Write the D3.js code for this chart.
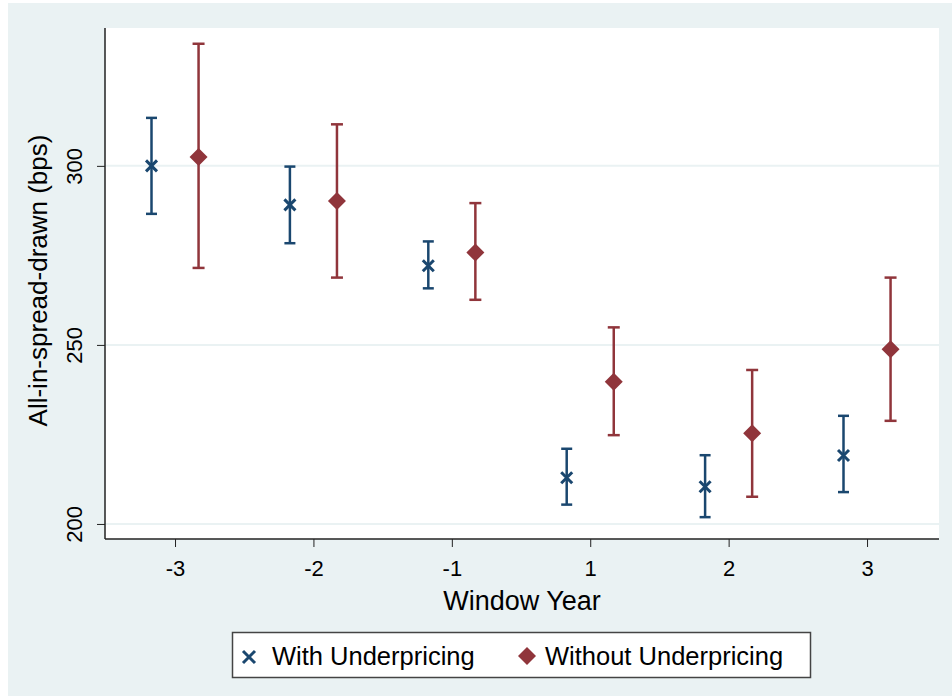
<!DOCTYPE html>
<html>
<head>
<meta charset="utf-8">
<script src="https://d3js.org/d3.v7.min.js"></script>
<style>
body { margin: 0; background: white; }
svg { display: block; font-family: "Liberation Sans", Arial, sans-serif; }
</style>
</head>
<body>
<svg width="952" height="696"></svg>
<script>
// window years and estimates
var years = ["-3", "-2", "-1", "1", "2", "3"];
var withMean = [300, 289.1, 272.1, 212.9, 210.4, 219.1];
var withLo   = [286.6, 278.4, 265.8, 205.4, 201.9, 208.9];
var withHi   = [313.4, 299.8, 278.9, 221.0, 219.2, 230.2];
var withoutMean = [302.5, 290.2, 275.8, 239.7, 225.3, 248.8];
var withoutLo   = [271.5, 268.8, 262.6, 224.8, 207.6, 228.8];
var withoutHi   = [334.1, 311.6, 289.6, 254.9, 243.0, 268.8];
var yTicks = [200, 250, 300];
var seriesNames = ["With Underpricing", "Without Underpricing"];

var blue = "#1a476f", red = "#90353b", bg = "#eaf2f3";
var plot = {left: 105, right: 939, top: 28, bottom: 539};

var svg = d3.select("svg");
svg.append("rect").attr("x", 8).attr("y", 3).attr("width", 944).attr("height", 693).attr("fill", bg);
svg.append("rect").attr("x", plot.left).attr("y", plot.top)
   .attr("width", plot.right - plot.left).attr("height", plot.bottom - plot.top).attr("fill", "white");

var x = d3.scaleLinear().domain([-0.506, 5.52]).range([plot.left, plot.right]);
var y = d3.scaleLinear().domain([195.8, 338.5]).range([plot.bottom, plot.top]);

// gridlines
svg.append("g").selectAll("line").data(yTicks).enter().append("line")
   .attr("x1", plot.left).attr("x2", plot.right)
   .attr("y1", function(d) { return y(d); }).attr("y2", function(d) { return y(d); })
   .attr("stroke", bg).attr("stroke-width", 2);

// axes
var yAxis = svg.append("g").attr("transform", "translate(" + plot.left + ",0)")
   .call(d3.axisLeft(y).tickValues(yTicks).tickSize(8).tickFormat(d3.format("d")));
yAxis.select(".domain").attr("d", "M0," + plot.top + "V" + plot.bottom).attr("stroke", "#222").attr("stroke-width", 1.5);
yAxis.selectAll(".tick line").attr("stroke", "#222");
yAxis.selectAll(".tick text")
   .attr("font-size", 22).attr("fill", "#000").attr("text-anchor", "middle")
   .attr("x", 0).attr("y", 0).attr("dy", 0)
   .attr("transform", "translate(-23,0) rotate(-90)");

var xAxis = svg.append("g").attr("transform", "translate(0," + plot.bottom + ")")
   .call(d3.axisBottom(x).tickValues(d3.range(years.length)).tickSize(8)
         .tickFormat(function(i) { return years[i]; }));
xAxis.select(".domain").attr("d", "M" + plot.left + ",0H" + plot.right).attr("stroke", "#222").attr("stroke-width", 1.5);
xAxis.selectAll(".tick line").attr("stroke", "#222");
xAxis.selectAll(".tick text").attr("font-size", 22).attr("fill", "#000").attr("y", 37).attr("dy", 0);

// axis titles
svg.append("text").attr("x", (plot.left + plot.right) / 2).attr("y", 610)
   .attr("text-anchor", "middle").attr("font-size", 27).text("Window Year");
svg.append("text").attr("transform", "translate(47," + ((plot.top + plot.bottom) / 2 - 3) + ") rotate(-90)")
   .attr("text-anchor", "middle").attr("font-size", 26).text("All-in-spread-drawn (bps)");

var offset = 0.17;

function drawSeries(mean, lo, hi, shift, color, capW) {
  var g = svg.append("g");
  var idx = d3.range(mean.length);
  g.selectAll(".bar").data(idx).enter().append("line")
   .attr("x1", function(i) { return x(i + shift); }).attr("x2", function(i) { return x(i + shift); })
   .attr("y1", function(i) { return y(lo[i]); }).attr("y2", function(i) { return y(hi[i]); })
   .attr("stroke", color).attr("stroke-width", 2.5);
  [lo, hi].forEach(function(arr) {
    g.selectAll(null).data(idx).enter().append("line")
     .attr("x1", function(i) { return x(i + shift) - capW / 2; })
     .attr("x2", function(i) { return x(i + shift) + capW / 2; })
     .attr("y1", function(i) { return y(arr[i]); }).attr("y2", function(i) { return y(arr[i]); })
     .attr("stroke", color).attr("stroke-width", 2.5);
  });
  return g;
}

var gWith = drawSeries(withMean, withLo, withHi, -offset, blue, 11);
var gWithout = drawSeries(withoutMean, withoutLo, withoutHi, offset, red, 12);

function cross(s) { return "M" + (-s) + "," + (-s) + "L" + s + "," + s + "M" + (-s) + "," + s + "L" + s + "," + (-s); }
function diamond(s) { return "M0," + (-s) + "L" + s + ",0L0," + s + "L" + (-s) + ",0Z"; }

gWith.selectAll(".mk").data(d3.range(withMean.length)).enter().append("path")
   .attr("transform", function(i) { return "translate(" + x(i - offset) + "," + y(withMean[i]) + ")"; })
   .attr("d", cross(5.5)).attr("stroke", blue).attr("stroke-width", 3).attr("fill", "none");
gWithout.selectAll(".mk").data(d3.range(withoutMean.length)).enter().append("path")
   .attr("transform", function(i) { return "translate(" + x(i + offset) + "," + y(withoutMean[i]) + ")"; })
   .attr("d", diamond(9)).attr("fill", red);

// legend
var lg = svg.append("g");
lg.append("rect").attr("x", 232.5).attr("y", 632.5).attr("width", 578).attr("height", 45)
  .attr("fill", "white").attr("stroke", "#444").attr("stroke-width", 1.5);
lg.append("path").attr("transform", "translate(249,657)").attr("d", cross(6))
  .attr("stroke", blue).attr("stroke-width", 3).attr("fill", "none");
lg.append("text").attr("x", 272).attr("y", 665).attr("font-size", 25.5).text(seriesNames[0]);
lg.append("path").attr("transform", "translate(527,656)").attr("d", diamond(9)).attr("fill", red);
lg.append("text").attr("x", 545).attr("y", 665).attr("font-size", 25.5).text(seriesNames[1]);
</script>
</body>
</html>
